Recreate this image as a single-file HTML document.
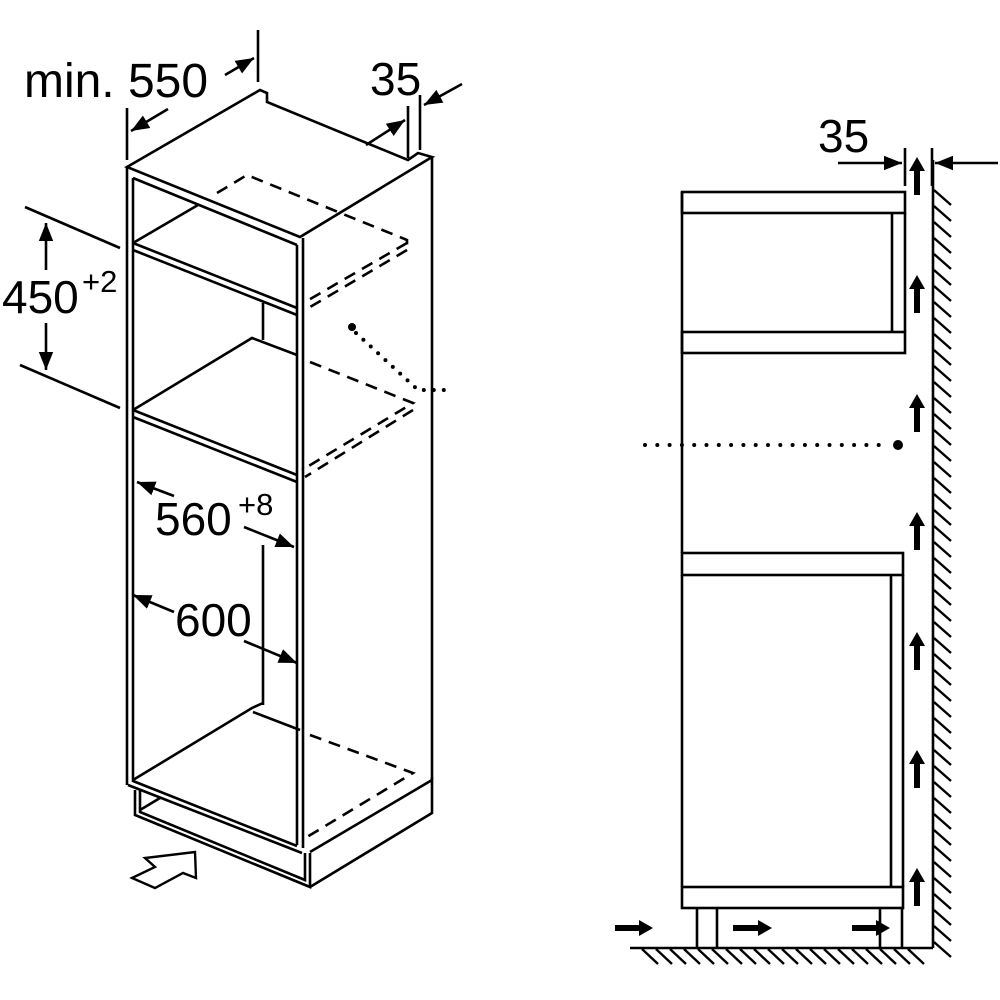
<!DOCTYPE html>
<html><head><meta charset="utf-8"><style>html,body{margin:0;padding:0;background:#fff}svg{display:block}</style></head><body>
<svg width="1000" height="1000" viewBox="0 0 1000 1000" xmlns="http://www.w3.org/2000/svg">
<defs>
<marker id="ah" viewBox="0 0 10 10" refX="10" refY="5" markerWidth="7" markerHeight="7" orient="auto-start-reverse" markerUnits="strokeWidth"><path d="M0,1 L10,5 L0,9 z" fill="#000"/></marker>
</defs>
<g fill="none" stroke="#000" stroke-width="2.6" stroke-linejoin="miter" font-family="Liberation Sans, sans-serif">
<line x1="127" y1="108" x2="127" y2="160"/>
<line x1="258" y1="30" x2="258" y2="82"/>
<line x1="168" y1="109" x2="131" y2="131" marker-end="url(#ah)"/>
<line x1="225" y1="75" x2="254" y2="58" marker-end="url(#ah)"/>
<line x1="408" y1="106" x2="408" y2="158"/>
<line x1="420" y1="95" x2="420" y2="150"/>
<line x1="366" y1="145" x2="405" y2="120" marker-end="url(#ah)"/>
<line x1="462" y1="84" x2="424" y2="105" marker-end="url(#ah)"/>
<line x1="25" y1="207" x2="120" y2="248"/>
<line x1="20" y1="365" x2="120" y2="408"/>
<line x1="46" y1="270" x2="46" y2="223" marker-end="url(#ah)"/>
<line x1="46" y1="323" x2="46" y2="370" marker-end="url(#ah)"/>
<path d="M127,167 L260,90 L267,93 L267,102 L408,160 L418,153 L432,157 L300,237 Z"/>
<path d="M127,167 L127,785"/>
<path d="M133,178 L133,782"/>
<path d="M133,178 L297,245"/>
<path d="M297,245 L297,845"/>
<path d="M303,238 L303,848"/>
<path d="M432,157 L432,780"/>
<path d="M133,243 L297,308"/>
<path d="M133,250 L297,315"/>
<path d="M133,243 L198,205"/>
<path d="M217,193 L247,175 L407,240 L407,247" stroke-dasharray="12,8"/>
<path d="M407,243 L305,302" stroke-dasharray="12,8"/>
<path d="M407,250 L305,310" stroke-dasharray="12,8"/>
<path d="M263,303 L263,340"/>
<path d="M133,410 L252,338 L297,355"/>
<path d="M310,362 L413,403 L302,470" stroke-dasharray="12,8"/>
<path d="M413,410 L305,477" stroke-dasharray="12,8"/>
<path d="M133,410 L297,475"/>
<path d="M133,417 L297,482"/>
<circle cx="352" cy="327" r="4" fill="#000" stroke="none"/>
<path d="M356,333 L418,390 L444,390" stroke-dasharray="0,10" stroke-linecap="round" stroke-width="4"/>
<line x1="174" y1="496" x2="137" y2="482" marker-end="url(#ah)"/>
<line x1="244" y1="527" x2="294" y2="547" marker-end="url(#ah)"/>
<line x1="174" y1="612" x2="133" y2="595" marker-end="url(#ah)"/>
<line x1="244" y1="641" x2="297" y2="663" marker-end="url(#ah)"/>
<path d="M263,545 L263,705"/>
<path d="M133,780 L252,708 L263,703"/>
<path d="M253,712 L300,730"/>
<path d="M310,735 L413,773 L302,840" stroke-dasharray="12,8"/>
<path d="M128,785 L302,853"/>
<path d="M133,781 L297,846"/>
<path d="M135,790 L135,815 L310,887 L310,853"/>
<path d="M140,790 L140,812 L305,880 L305,853"/>
<path d="M140,810 L160,798"/>
<path d="M310,887 L432,813 L432,777"/>
<path d="M310,852 L432,780"/>
<path d="M132,878 L155,867 L145,858 L195,852 L196,878 L183,873 L155,888 Z" stroke-width="2.4"/>
<rect x="682" y="192" width="223" height="21"/>
<rect x="682" y="332" width="223" height="21"/>
<line x1="905" y1="213" x2="905" y2="332"/>
<line x1="892" y1="213" x2="892" y2="332"/>
<line x1="682" y1="192" x2="682" y2="553"/>
<rect x="682" y="553" width="221" height="22"/>
<rect x="682" y="887" width="221" height="21"/>
<line x1="682" y1="575" x2="682" y2="887"/>
<line x1="903" y1="575" x2="903" y2="887"/>
<line x1="891" y1="575" x2="891" y2="887"/>
<path d="M697,908 L697,948 M717,908 L717,948 M880,908 L880,948 M902,908 L902,948"/>
<line x1="630" y1="948" x2="933" y2="948"/>
<line x1="933" y1="160" x2="933" y2="948"/>
<line x1="905" y1="148" x2="905" y2="186"/>
<line x1="932" y1="148" x2="932" y2="186"/>
<line x1="838" y1="163" x2="902" y2="163" marker-end="url(#ah)"/>
<line x1="998" y1="163" x2="935" y2="163" marker-end="url(#ah)"/>
<path d="M645,445 L890,445" stroke-dasharray="0,12.3" stroke-linecap="round" stroke-width="4"/>
<circle cx="898" cy="445" r="5" fill="#000" stroke="none"/>
</g>
<g stroke="#000" stroke-width="2.4">
<path d="M934,190 l17,15 M934,206 l17,15 M934,222 l17,15 M934,238 l17,15 M934,254 l17,15 M934,270 l17,15 M934,286 l17,15 M934,302 l17,15 M934,318 l17,15 M934,334 l17,15 M934,350 l17,15 M934,366 l17,15 M934,382 l17,15 M934,398 l17,15 M934,414 l17,15 M934,430 l17,15 M934,446 l17,15 M934,462 l17,15 M934,478 l17,15 M934,494 l17,15 M934,510 l17,15 M934,526 l17,15 M934,542 l17,15 M934,558 l17,15 M934,574 l17,15 M934,590 l17,15 M934,606 l17,15 M934,622 l17,15 M934,638 l17,15 M934,654 l17,15 M934,670 l17,15 M934,686 l17,15 M934,702 l17,15 M934,718 l17,15 M934,734 l17,15 M934,750 l17,15 M934,766 l17,15 M934,782 l17,15 M934,798 l17,15 M934,814 l17,15 M934,830 l17,15 M934,846 l17,15 M934,862 l17,15 M934,878 l17,15 M934,894 l17,15 M934,910 l17,15 M934,926 l17,15 M934,942 l17,15"/>
<path d="M642,949 l16,15 M656,949 l16,15 M670,949 l16,15 M684,949 l16,15 M698,949 l16,15 M712,949 l16,15 M726,949 l16,15 M740,949 l16,15 M754,949 l16,15 M768,949 l16,15 M782,949 l16,15 M796,949 l16,15 M810,949 l16,15 M824,949 l16,15 M838,949 l16,15 M852,949 l16,15 M866,949 l16,15 M880,949 l16,15 M894,949 l16,15 M908,949 l16,15"/>
</g>
<g fill="#000">
<path d="M917,157 L925,171 L920,171 L920,195 L914,195 L914,171 L909,171 Z"/>
<path d="M917,275 L925,289 L920,289 L920,313 L914,313 L914,289 L909,289 Z"/>
<path d="M917,394 L925,408 L920,408 L920,432 L914,432 L914,408 L909,408 Z"/>
<path d="M917,512 L925,526 L920,526 L920,550 L914,550 L914,526 L909,526 Z"/>
<path d="M917,632 L925,646 L920,646 L920,670 L914,670 L914,646 L909,646 Z"/>
<path d="M917,750 L925,764 L920,764 L920,788 L914,788 L914,764 L909,764 Z"/>
<path d="M917,868 L925,882 L920,882 L920,906 L914,906 L914,882 L909,882 Z"/>
<path d="M653,928 L639,920 L639,925 L615,925 L615,931 L639,931 L639,936 Z"/>
<path d="M772,928 L758,920 L758,925 L733,925 L733,931 L758,931 L758,936 Z"/>
<path d="M890,928 L876,920 L876,925 L852,925 L852,931 L876,931 L876,936 Z"/>
</g>
<g font-family="Liberation Sans, sans-serif" fill="#000">
<text x="24" y="97" font-size="48" textLength="184" lengthAdjust="spacingAndGlyphs">min. 550</text>
<text x="370" y="95" font-size="46">35</text>
<text x="2" y="313" font-size="46">450</text>
<text x="82" y="292" font-size="31">+2</text>
<text x="155" y="535" font-size="46">560</text>
<text x="238" y="515" font-size="31">+8</text>
<text x="175" y="636" font-size="46">600</text>
<text x="818" y="152" font-size="46">35</text>
</g>
</svg>
</body></html>
